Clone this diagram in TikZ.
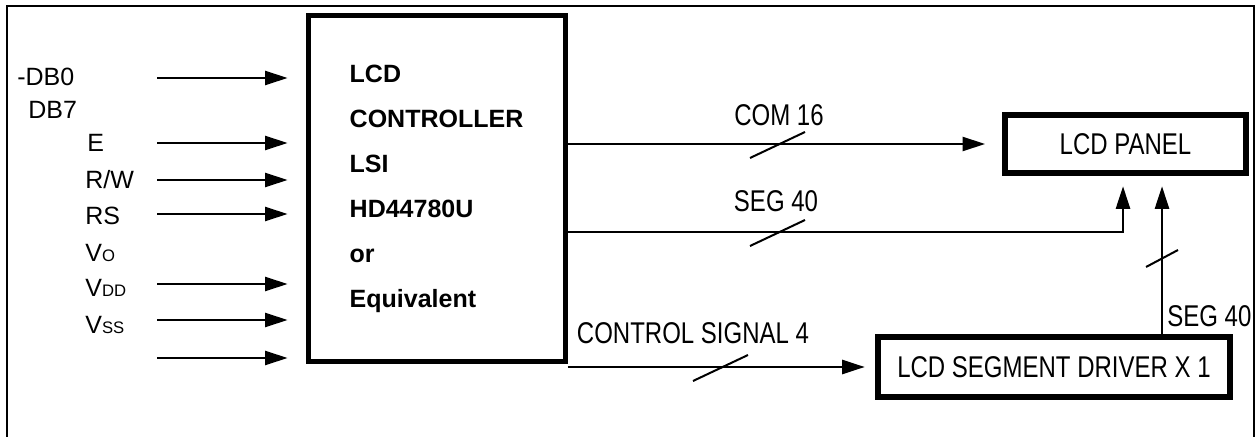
\documentclass[tikz,border=0pt]{standalone}
\usepackage{fontspec}
\setmainfont{Liberation Sans}
\newfontfamily\narrowfont{Liberation Sans}[FakeStretch=0.8]
\usetikzlibrary{arrows.meta}

\begin{document}
\begin{tikzpicture}[x=0.6pt,y=-0.6pt,
	sig/.style={line width=1.2pt,-{Triangle[length=13.5pt,width=8.5pt]}},
	bus/.style={line width=1.2pt},
	pin/.style={anchor=base west,inner sep=0pt,font=\fontsize{15}{18}\selectfont},
	buslabel/.style={anchor=base,inner sep=0pt,font=\narrowfont\fontsize{18}{21}\selectfont},
	blockbox/.style={draw,line width=4pt,inner sep=0pt,font=\narrowfont\fontsize{18}{21}\selectfont}]
\useasboundingbox (0,0) rectangle (1260,437);
%========================================
% Frame
%========================================
\draw[line width=1.2pt] (7,437) -- (7,6) -- (1254,6) -- (1254,437);

%========================================
% LEFT: controller LSI with its inputs
%========================================
\node[draw,line width=3pt,minimum width=154.2pt,minimum height=207.6pt,
	align=left,font=\fontsize{15}{27}\bfseries\selectfont]
	(ctrl) at (436.5,189) {LCD\\CONTROLLER\\LSI\\HD44780U\\or\\Equivalent};
% Input pins
\node[pin] (db0) at (17,86) {-DB0};
\node[pin] (db7) at (28,119) {DB7};
\node[pin] (en) at (87,152) {E};
\node[pin] (rw) at (85,189) {R/W};
\node[pin] (rs) at (85,225) {RS};
\node[pin] (vo) at (85,261) {V{\fontsize{10}{12}\selectfont O}};
\node[pin] (vdd) at (85,296) {V{\fontsize{10}{12}\selectfont DD}};
\node[pin] (vss) at (85,333) {V{\fontsize{10}{12}\selectfont SS}};
% Input arrows
\foreach \y [count=\i] in {78,143,180,214,284,320,358}
	\draw[sig,shorten >=10.8pt] (157,\y) coordinate (in\i) -- (in\i -| ctrl.west);

%========================================
% RIGHT: panel and segment driver
%========================================
\node[blockbox,minimum width=144.6pt,minimum height=34.8pt] (panel) at (1125.5,144) {LCD PANEL};
\node[blockbox,minimum width=211.2pt,minimum height=36pt] (drv) at (1054,367) {LCD SEGMENT DRIVER X 1};
\coordinate (segbend) at (1123,232);
\coordinate (segB) at (1162,258);

% COM 16
\draw[sig,shorten >=10pt] (ctrl.east |- panel.west) -- (panel.west);
\node[buslabel] (lcom) at (779,126) {COM 16};
% SEG 40 from controller
\draw[sig,shorten >=6pt] (ctrl.east |- segbend) -- (segbend) -- (segbend |- panel.south);
\node[buslabel] (lseg) at (776,212) {SEG 40};
% Control signal
\draw[sig,shorten >=6pt] (ctrl.east |- drv.west) -- (drv.west);
\node[buslabel] (lctl) at (693,343) {CONTROL SIGNAL 4};
% SEG 40 from driver
\draw[sig,shorten >=6pt] (drv.north -| segB) -- (segB |- panel.south);
\node[buslabel,anchor=base west] (lsegB) at (1167,327) {SEG 40};

% Bus width marks
\foreach \x/\y in {777/145,777/233,720/368}
	\draw[bus] (\x,\y) ++(-27,13) -- ++(55,-26);
\draw[bus] (segB) ++(-16,9) -- ++(32,-17);

\end{tikzpicture}
\end{document}
